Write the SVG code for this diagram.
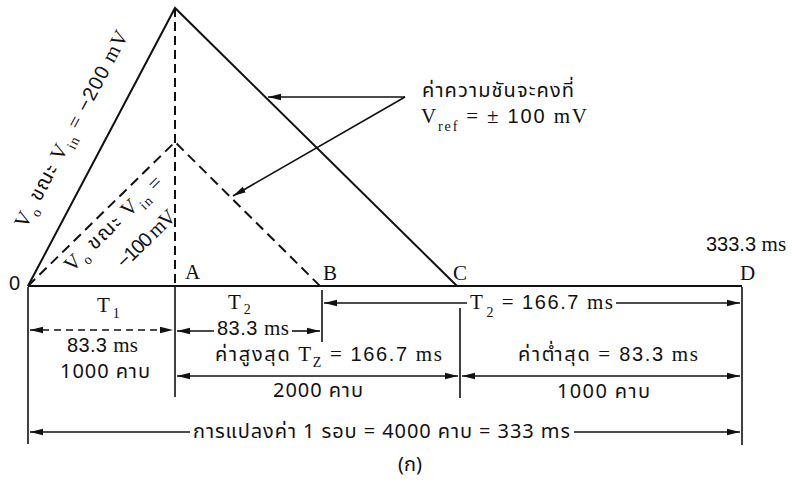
<svg xmlns="http://www.w3.org/2000/svg" width="792" height="497" viewBox="0 0 792 497">
<style>
.ln{stroke:#111;stroke-width:2;fill:none}
.dl{stroke:#111;stroke-width:1.6;fill:none}
.dash{stroke-dasharray:10 6}
.th{font-family:'Noto Sans Thai','Loma','Garuda','Noto Sans','DejaVu Sans',sans-serif;font-size:20px;fill:#111}
.sa{font-family:'Liberation Sans','Noto Sans',sans-serif;font-size:20px;fill:#111}
.se{font-family:'Liberation Serif','Noto Serif',serif;font-size:21px;fill:#111}
.sub{font-size:14px}
</style>
<defs>
<marker id="ar" markerUnits="userSpaceOnUse" markerWidth="14" markerHeight="8" refX="13" refY="4" orient="auto-start-reverse">
<path d="M0,0.8 L13,4 L0,7.2 z" fill="#111"/>
</marker>
</defs>
<rect width="792" height="497" fill="#fff"/>

<g id="waveform">
<path class="ln" d="M28,286 L175,8 L457,286"/>
<path class="ln dash" d="M28,286 L175,142 L320,286"/>
<path class="ln" d="M175,8 L175,286" stroke-dasharray="9 5"/>
<path class="ln" d="M28,286 L742,286"/>
</g>

<g id="point-labels">
<text class="sa" x="9" y="290" font-size="16">0</text>
<text class="se" x="185" y="279">A</text>
<text class="se" x="323" y="280">B</text>
<text class="se" x="453" y="280">C</text>
<text class="se" x="740" y="280">D</text>
<text class="sa" x="706" y="251" font-size="17">333.3 <tspan class="se" font-size="18">ms</tspan></text>
</g>

<g id="label-200" transform="translate(25.8,229.5) rotate(-62.05)">
<text class="se" x="0" y="0" font-size="22" textLength="220" lengthAdjust="spacing">V<tspan class="sub" dy="6">o</tspan><tspan class="th" font-size="21" dy="-6"> ขณะ </tspan>V<tspan class="sub" dy="6">in</tspan><tspan dy="-6"> = </tspan><tspan class="sa" font-size="21">−200</tspan> mV</text>
</g>

<g id="label-100" transform="translate(72,272.9) rotate(-44.2)">
<text class="se" x="0" y="0" font-size="22" textLength="128" lengthAdjust="spacing">V<tspan class="sub" dy="6">o</tspan><tspan class="th" font-size="21" dy="-6"> ขณะ </tspan>V<tspan class="sub" dy="6">in</tspan><tspan dy="-6"> =</tspan></text>
<text class="se" x="40" y="34" font-size="22" textLength="74" lengthAdjust="spacing"><tspan class="sa" font-size="21">−100</tspan> mV</text>
</g>

<g id="slope-note">
<text class="th" x="422" y="97" font-size="21" textLength="152" lengthAdjust="spacing">ค่าความชันจะคงที่</text>
<text class="se" x="421" y="123" textLength="166" lengthAdjust="spacing">V<tspan class="sub" dy="8">ref</tspan><tspan dy="-8"> = ± </tspan><tspan class="sa">100</tspan> mV</text>
</g>

<g id="connectors">
<path class="dl" d="M405,97 L268,97" marker-end="url(#ar)"/>
<path class="dl" d="M405,97 L233,196" marker-end="url(#ar)"/>
<path class="dl" d="M28,287 L28,444"/>
<path class="dl" d="M175,287 L175,397"/>
<path class="dl" d="M322,290 L322,342"/>
<path class="dl" d="M460,308 L460,398"/>
<path class="dl" d="M742,287 L742,445"/>
<path class="dl" d="M30,330 L173,330" stroke-dasharray="7 5" marker-start="url(#ar)" marker-end="url(#ar)"/>
<path class="dl" d="M177,331 L214,331" marker-start="url(#ar)"/>
<path class="dl" d="M292,331 L320,331" marker-end="url(#ar)"/>
<path class="dl" d="M324,303 L467,303" marker-start="url(#ar)"/>
<path class="dl" d="M616,303 L740,303" marker-end="url(#ar)"/>
<path class="dl" d="M177,376 L458,376" marker-start="url(#ar)" marker-end="url(#ar)"/>
<path class="dl" d="M462,376 L740,376" marker-start="url(#ar)" marker-end="url(#ar)"/>
<path class="dl" d="M30,432 L190,432" marker-start="url(#ar)"/>
<path class="dl" d="M574,432 L740,432" marker-end="url(#ar)"/>
</g>

<g id="dim-T1">
<text class="se" x="97" y="312">T<tspan class="sub" dx="3" dy="6">1</tspan></text>
<text class="sa" x="67" y="352" textLength="71" lengthAdjust="spacing">83.3 <tspan class="se">ms</tspan></text>
<text class="th" x="60" y="378" textLength="90" lengthAdjust="spacing">1000 คาบ</text>
</g>

<g id="dim-T2">
<text class="se" x="228" y="309" font-size="20">T<tspan class="sub" font-size="13" dx="3" dy="5">2</tspan></text>
<text class="sa" x="217" y="335" font-size="18" textLength="72" lengthAdjust="spacing">83.3 <tspan class="se" font-size="19">ms</tspan></text>
</g>

<g id="dim-T2-total">
<text class="se" x="470" y="309" textLength="143" lengthAdjust="spacing">T<tspan class="sub" dx="2" dy="8">2</tspan><tspan dy="-8"> = </tspan><tspan class="sa">166.7</tspan> ms</text>
</g>

<g id="dim-max">
<text class="th" x="215" y="361" textLength="227" lengthAdjust="spacing">ค่าสูงสุด <tspan class="se">T</tspan><tspan class="se sub" dy="6">Z</tspan><tspan class="se" dy="-6"> = </tspan><tspan class="sa">166.7</tspan><tspan class="se"> ms</tspan></text>
<text class="th" x="273" y="397" textLength="90" lengthAdjust="spacing">2000 คาบ</text>
</g>

<g id="dim-min">
<text class="th" x="518" y="361" textLength="180" lengthAdjust="spacing">ค่าต่ำสุด <tspan class="se">=</tspan><tspan class="sa"> 83.3</tspan><tspan class="se"> ms</tspan></text>
<text class="th" x="557" y="398" textLength="93" lengthAdjust="spacing">1000 คาบ</text>
</g>

<g id="dim-total">
<text class="th" x="193" y="438" textLength="377" lengthAdjust="spacing">การแปลงค่า 1 รอบ = 4000 คาบ = 333 ms</text>
</g>

<text class="th" x="410" y="471" text-anchor="middle" font-size="22">(ก)</text>
</svg>
